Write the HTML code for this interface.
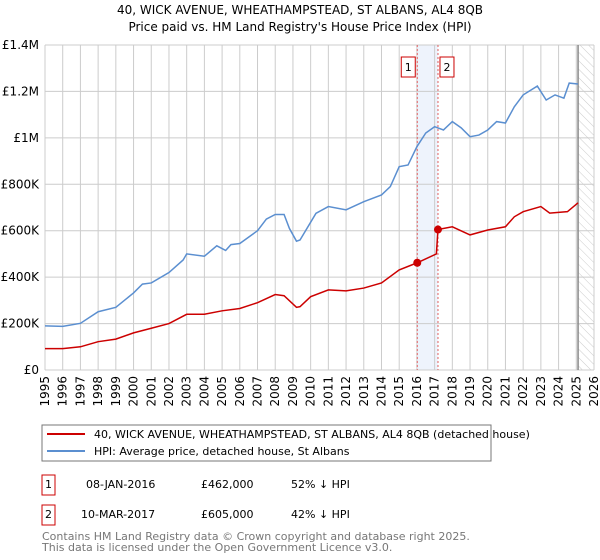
<!DOCTYPE html>
<html><head><meta charset="utf-8"><style>
body{margin:0;background:#fff;font-family:"DejaVu Sans","Liberation Sans",sans-serif;}
#wrap{position:relative;width:600px;height:560px;overflow:hidden;}
svg text{font-family:"DejaVu Sans","Liberation Sans",sans-serif;}
</style></head><body>
<div id="wrap">
<svg id="chart" width="600" height="560" xmlns="http://www.w3.org/2000/svg">
<defs><pattern id="hatch" width="6" height="6" patternUnits="userSpaceOnUse" patternTransform="rotate(-45)"><line x1="0" y1="0" x2="0" y2="6" stroke="#ccc" stroke-width="1"/></pattern></defs>
<text x="300" y="14" text-anchor="middle" font-size="12" fill="#000">40, WICK AVENUE, WHEATHAMPSTEAD, ST ALBANS, AL4 8QB</text>
<text x="300" y="31" text-anchor="middle" font-size="12" fill="#000">Price paid vs. HM Land Registry's House Price Index (HPI)</text>
<g id="grid"></g><g id="marks"></g><g id="axes"></g>
<rect x="42" y="425" width="449" height="36" fill="#fff" stroke="#777"/>
<line x1="47" y1="434" x2="85" y2="434" stroke="#cc0000" stroke-width="2"/>
<text x="94" y="438" font-size="11">40, WICK AVENUE, WHEATHAMPSTEAD, ST ALBANS, AL4 8QB (detached house)</text>
<line x1="47" y1="451" x2="85" y2="451" stroke="#5b8fd0" stroke-width="2"/>
<text x="94" y="455" font-size="11">HPI: Average price, detached house, St Albans</text>
<g font-size="11">
<rect x="42" y="475" width="13" height="20" fill="#fff" stroke="#cc0000"/>
<text x="48.5" y="488" text-anchor="middle">1</text>
<text x="86" y="488">08-JAN-2016</text>
<text x="201" y="488">£462,000</text>
<text x="291" y="488">52% ↓ HPI</text>
<rect x="42" y="505" width="13" height="20" fill="#fff" stroke="#cc0000"/>
<text x="48.5" y="518" text-anchor="middle">2</text>
<text x="81" y="518">10-MAR-2017</text>
<text x="201" y="518">£605,000</text>
<text x="291" y="518">42% ↓ HPI</text>
</g>
<text x="42" y="540" font-size="11" fill="#777">Contains HM Land Registry data © Crown copyright and database right 2025.</text>
<text x="42" y="551" font-size="11" fill="#777">This data is licensed under the Open Government Licence v3.0.</text>
</svg>
</div>
<script>
const hpiYears=[1995,1996,1997,1998,1999,2000,2000.5,2001,2002,2002.8,2003,2004,2004.7,2005.2,2005.5,2006,2007,2007.5,2008,2008.5,2008.8,2009.2,2009.4,2010.3,2011,2012,2013,2014,2014.5,2015,2015.5,2016,2016.5,2017,2017.5,2018,2018.5,2019,2019.5,2020,2020.5,2021,2021.5,2022,2022.8,2023.3,2023.8,2024.3,2024.6,2025.1];
const hpiValues=[190,188,201,251,270,332,370,375,420,474,500,490,535,515,540,545,600,650,670,670,610,555,560,675,704,690,725,754,790,876,883,962,1021,1048,1034,1070,1043,1005,1012,1034,1070,1064,1134,1185,1223,1163,1185,1171,1236,1232];
const ppYears=[1995,1996,1997,1998,1999,2000,2001,2002,2003,2004,2005,2006,2007,2008,2008.5,2009.2,2009.4,2010,2011,2012,2013,2014,2015,2016.02,2017.1,2017.19,2018,2019,2020,2021,2021.5,2022,2023,2023.5,2024.5,2025.1];
const ppValues=[92,92,100,122,133,160,180,200,240,240,255,265,290,325,320,270,273,316,345,341,353,375,431,462,500,605,617,582,603,617,660,682,704,676,682,720];
const saleYears=[2016.02,2017.19];
const saleValues=[462,605];
const saleLabels=['1','2'];
const yTicks=[0,200,400,600,800,1000,1200,1400];
const yTickLabels=['£0','£200K','£400K','£600K','£800K','£1M','£1.2M','£1.4M'];
const xTicks=[1995,1996,1997,1998,1999,2000,2001,2002,2003,2004,2005,2006,2007,2008,2009,2010,2011,2012,2013,2014,2015,2016,2017,2018,2019,2020,2021,2022,2023,2024,2025,2026];

const L=45,R=594,T=45,B=370;
const xs=y=>L+(y-1995)/(2026-1995)*(R-L);
const ys=v=>B-v/1400*(B-T);
const NS='http://www.w3.org/2000/svg';
function mk(tag,attrs,parent){const e=document.createElementNS(NS,tag);for(const k in attrs)e.setAttribute(k,attrs[k]);parent.appendChild(e);return e;}
const grid=document.getElementById('grid'),marks=document.getElementById('marks'),axes=document.getElementById('axes');

// sale shading
const sh=mk('rect',{x:xs(saleYears[0]),y:T,width:xs(saleYears[1])-xs(saleYears[0]),height:B-T,fill:'#eef3fc'},grid);


const hz=mk('rect',{x:xs(2025.1),y:T,width:R-xs(2025.1),height:B-T,fill:'url(#hatch)'},grid);



xTicks.forEach((t,i)=>{
 const g=mk('line',{x1:xs(t),x2:xs(t),y1:T,y2:B,stroke:'#ccc','stroke-width':1},grid);
 
 
 const tx=mk('text',{x:0,y:0,'font-size':12,'text-anchor':'end',transform:`translate(${xs(t)+4},${B+6}) rotate(-90)`},axes);
 tx.textContent=t;
 
 
});
yTicks.forEach((t,i)=>{
 const g=mk('line',{x1:L,x2:R,y1:ys(t),y2:ys(t),stroke:'#ccc','stroke-width':1},grid);
 
 
 const tx=mk('text',{x:L-6,y:ys(t)+4,'font-size':12,'text-anchor':'end'},axes);
 tx.textContent=yTickLabels[i];
 
 
});
const nl=mk('line',{x1:xs(2025.1),x2:xs(2025.1),y1:T,y2:B,stroke:'#888','stroke-width':1.5},grid);



saleYears.forEach((s,i)=>{
 const d=mk('line',{x1:xs(s),x2:xs(s),y1:T,y2:B,stroke:'#e06060','stroke-width':1,'stroke-dasharray':'2,2'},grid);
 
 
 const bx=xs(s)+(i===0?-9:9);
 const r=mk('rect',{x:bx-7,y:57,width:14,height:20,fill:'#fff',stroke:'#cc0000'},axes);
 
 
 const t=mk('text',{x:bx,y:71,'font-size':11,'text-anchor':'middle'},axes);
 t.textContent=saleLabels[i];
 
 
});

const hp=mk('polyline',{points:hpiYears.map((y,i)=>xs(y)+','+ys(hpiValues[i])).join(' '),fill:'none',stroke:'#5b8fd0','stroke-width':1.5},marks);


const pp=mk('polyline',{points:ppYears.map((y,i)=>xs(y)+','+ys(ppValues[i])).join(' '),fill:'none',stroke:'#cc0000','stroke-width':1.5},marks);


saleYears.forEach((s,i)=>{
 const c=mk('circle',{cx:xs(s),cy:ys(saleValues[i]),r:4,fill:'#cc0000'},marks);
 
 
});
</script>
</body></html>
